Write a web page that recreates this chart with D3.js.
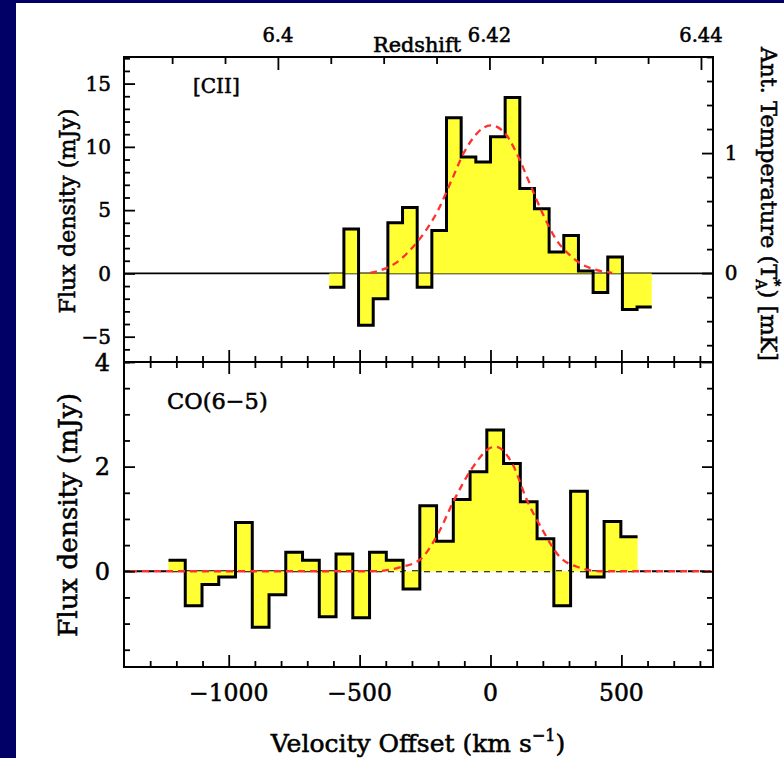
<!DOCTYPE html>
<html>
<head>
<meta charset="utf-8">
<script src="https://cdn.jsdelivr.net/npm/d3@7"></script>
<style>
  html, body { margin: 0; padding: 0; background: #000066; }
  svg { display: block; }
  text { font-family: "DejaVu Serif", serif; fill: #000; stroke: #000; stroke-width: 0.55px; }
</style>
</head>
<body>
<svg id="chart" width="784" height="758"></svg>
<script>
// [CII] spectrum, channel centres (km/s) and flux (mJy), 56 km/s channels
const ciiVelocity = [-588, -532, -476, -420, -364, -308, -252, -196, -140, -84, -28,
                     28, 84, 140, 196, 252, 308, 364, 420, 476, 532, 588];
const ciiFlux = [-1.1, 3.5, -4.1, -2.0, 4.0, 5.2, -1.1, 3.4, 12.3, 9.2, 8.8,
                 10.8, 13.9, 6.7, 5.1, 1.7, 3.0, 0.2, -1.5, 1.3, -2.85, -2.65];
// gaussian fit
const ciiFitVelocity = [-460, -400, -350, -300, -250, -200, -150, -100, -50, 0, 50, 100, 150, 200, 250, 300, 350, 400, 465];
const ciiFitFlux = [0.05, 0.4, 1.0, 2.0, 3.3, 5.0, 7.3, 9.6, 11.1, 11.7, 11.2, 9.5, 7.1, 4.7, 2.7, 1.5, 0.7, 0.3, 0.05];

// CO(6-5) spectrum, 64 km/s channels
const coVelocity = [-1198, -1134, -1070, -1006, -942, -878, -814, -750, -686, -622, -558, -494, -430, -366,
                    -302, -238, -174, -110, -46, 18, 82, 146, 210, 274, 338, 402, 466, 530];
const coFlux = [0.21, -0.66, -0.255, -0.11, 0.93, -1.07, -0.45, 0.365, 0.21, -0.87, 0.33, -0.89, 0.365, 0.21,
                -0.34, 1.25, 0.575, 1.37, 1.9, 2.7, 2.06, 1.33, 0.62, -0.66, 1.53, -0.11, 0.95, 0.66];
const coFitVelocity = [-1400, -450, -350, -270, -200, -140, -70, 0, 20, 85, 140, 200, 260, 340, 420, 850];
const coFitFlux = [0, 0, 0.07, 0.22, 0.72, 1.35, 1.97, 2.36, 2.38, 2.04, 1.35, 0.78, 0.3, 0.07, 0, 0];

const ciiChannel = 56, coChannel = 64;

// tick labels
const velocityTicks = [-1000, -500, 0, 500];
const redshiftTicks = [6.40, 6.42, 6.44];
const ciiTicks = [-5, 0, 5, 10, 15];
const tempTicks = [0, 1];
const coTicks = [0, 2, 4];

const z0 = 6.4201, cLight = 299792.458;
const zOf = (v) => z0 + (1 + z0) * v / cLight;

const svg = d3.select("#chart");
const pLeft = 124, pRight = 713, pTop = 57, pMid = 362, pBottom = 667;

svg.append("rect").attr("x", 16).attr("y", 3).attr("width", 784 - 16).attr("height", 758 - 3).attr("fill", "#fff");

const x = d3.scaleLinear().domain([-1400, 850]).range([pLeft, pRight]);
const xz = d3.scaleLinear().domain([zOf(-1400), zOf(850)]).range([pLeft, pRight]);
const yCii = d3.scaleLinear().domain([-7.0, 17.1]).range([pMid, pTop]);
const yTemp = d3.scaleLinear().domain([-0.74, 1.8]).range([pMid, pTop]);
const yCo = d3.scaleLinear().domain([-1.83, 4.0]).range([pBottom, pMid]);

const fmt = (d) => (d < 0 ? "\u2212" + Math.abs(d) : String(d));

function tickAxis(axis, scale, values, size, tx, ty) {
  const g = svg.append("g")
    .attr("transform", `translate(${tx},${ty})`)
    .call(axis(scale).tickValues(values).tickSize(-size).tickFormat(""));
  g.select(".domain").remove();
  g.selectAll("line").attr("stroke", "#000").attr("stroke-width", 1.8);
  return g;
}
const inDomain = (s, vals) => vals.filter((v) => v >= Math.min(...s.domain()) - 1e-9 && v <= Math.max(...s.domain()) + 1e-9);

// histogram helpers
function stepPoints(vel, flux, w) {
  return vel.flatMap((v, i) => [[v - w / 2, flux[i]], [v + w / 2, flux[i]]]);
}
function drawSpectrum(vel, flux, w, yScale) {
  const pts = stepPoints(vel, flux, w);
  svg.append("path")
    .attr("d", d3.area().x((d) => x(d[0])).y0(yScale(0)).y1((d) => yScale(d[1]))(pts))
    .attr("fill", "#ffff33");
  svg.append("path")
    .attr("d", d3.line().x((d) => x(d[0])).y((d) => yScale(d[1]))(pts))
    .attr("fill", "none").attr("stroke", "#000").attr("stroke-width", 3)
    .attr("stroke-linejoin", "miter");
}
function drawFit(vel, flux, yScale, offset) {
  svg.append("path")
    .attr("d", d3.line().curve(d3.curveMonotoneX).x((d) => x(d[0])).y((d) => yScale(d[1]))(vel.map((v, i) => [v, flux[i]])))
    .attr("fill", "none").attr("stroke", "#ff3030").attr("stroke-width", 2.3)
    .attr("stroke-dasharray", "7,5").attr("stroke-dashoffset", offset);
}

// ---------- top panel: [CII] ----------
svg.append("line").attr("x1", pLeft).attr("x2", pRight).attr("y1", yCii(0)).attr("y2", yCii(0))
  .attr("stroke", "#000").attr("stroke-width", 1.8);
drawSpectrum(ciiVelocity, ciiFlux, ciiChannel, yCii);
drawFit(ciiFitVelocity, ciiFitFlux, yCii, 0);

const ciiMinor = inDomain(yCii, d3.range(-7, 18, 1)).filter((d) => d % 5 !== 0);
tickAxis(d3.axisLeft, yCii, ciiMinor, 6, pLeft, 0);
tickAxis(d3.axisLeft, yCii, ciiTicks, 11, pLeft, 0);
const tempMinor = inDomain(yTemp, d3.range(-0.6, 1.81, 0.2).map((d) => +d.toFixed(1))).filter((d) => d !== 0 && d !== 1);
tickAxis(d3.axisRight, yTemp, tempMinor, 6, pRight, 0);
tickAxis(d3.axisRight, yTemp, tempTicks, 11, pRight, 0);
const zMinor = inDomain(xz, d3.range(6.39, 6.446, 0.005).map((d) => +d.toFixed(3))).filter((d) => !redshiftTicks.includes(d));
tickAxis(d3.axisTop, xz, zMinor, 7, 0, pTop);
tickAxis(d3.axisTop, xz, redshiftTicks, 13, 0, pTop);
const vMinor = d3.range(-1300, 850, 100).filter((d) => d % 500 !== 0);
tickAxis(d3.axisBottom, x, vMinor, 6, 0, pMid);
tickAxis(d3.axisBottom, x, velocityTicks, 12, 0, pMid);

svg.append("g").selectAll("text").data(ciiTicks).join("text")
  .attr("x", 111).attr("y", (d) => yCii(d)).attr("dy", "0.36em")
  .attr("text-anchor", "end").attr("font-size", 20).text(fmt);
svg.append("g").selectAll("text").data(tempTicks).join("text")
  .attr("x", 731).attr("y", (d) => yTemp(d)).attr("dy", "0.36em")
  .attr("text-anchor", "middle").attr("font-size", 20).text(fmt);
svg.append("g").selectAll("text").data(redshiftTicks).join("text")
  .attr("x", (d) => xz(d)).attr("y", 42)
  .attr("text-anchor", "middle").attr("font-size", 19.5).text((d) => d3.format(".3~f")(d));
svg.append("text").attr("x", 417).attr("y", 52).attr("text-anchor", "middle")
  .attr("font-size", 20).attr("textLength", 88).attr("lengthAdjust", "spacingAndGlyphs").text("Redshift");
svg.append("text").attr("x", 193).attr("y", 93).attr("font-size", 20).text("[CII]");
svg.append("text").attr("transform", "translate(75,211) rotate(-90)").attr("text-anchor", "middle")
  .attr("font-size", 22).attr("textLength", 205).attr("lengthAdjust", "spacingAndGlyphs").text("Flux density (mJy)");
const tLabel = svg.append("text").attr("transform", "translate(761,204) rotate(90)").attr("text-anchor", "middle")
  .attr("font-size", 22.5);
tLabel.append("tspan").text("Ant. Temperature (T");
tLabel.append("tspan").attr("font-size", 14).attr("dy", -9).text("*");
tLabel.append("tspan").attr("font-size", 14).attr("dx", -7).attr("dy", 14).text("A");
tLabel.append("tspan").attr("dy", -5).text(") [mK]");

// ---------- bottom panel: CO(6-5) ----------
svg.append("line").attr("x1", pLeft).attr("x2", pRight).attr("y1", yCo(0)).attr("y2", yCo(0))
  .attr("stroke", "#000").attr("stroke-width", 1.8).attr("stroke-dasharray", "6,6");
drawSpectrum(coVelocity, coFlux, coChannel, yCo);
drawFit(coFitVelocity, coFitFlux, yCo, 6);

const coMinor = inDomain(yCo, d3.range(-1.5, 4.01, 0.5)).filter((d) => !coTicks.includes(d));
tickAxis(d3.axisLeft, yCo, coMinor, 6, pLeft, 0);
tickAxis(d3.axisLeft, yCo, coTicks, 11, pLeft, 0);
tickAxis(d3.axisRight, yCo, coMinor, 6, pRight, 0);
tickAxis(d3.axisRight, yCo, coTicks, 11, pRight, 0);
tickAxis(d3.axisTop, x, vMinor, 6, 0, pMid);
tickAxis(d3.axisTop, x, velocityTicks, 12, 0, pMid);
tickAxis(d3.axisBottom, x, vMinor, 6, 0, pBottom);
tickAxis(d3.axisBottom, x, velocityTicks, 12, 0, pBottom);

svg.append("g").selectAll("text").data(coTicks).join("text")
  .attr("x", 110).attr("y", (d) => yCo(d)).attr("dy", "0.36em")
  .attr("text-anchor", "end").attr("font-size", 24).text(fmt);
svg.append("g").selectAll("text").data(velocityTicks).join("text")
  .attr("x", (d) => x(d)).attr("y", 701)
  .attr("text-anchor", "middle").attr("font-size", 23.5).text(fmt);
svg.append("text").attr("x", 167).attr("y", 409).attr("font-size", 22.5).text("CO(6\u22125)");
svg.append("text").attr("transform", "translate(77,515) rotate(-90)").attr("text-anchor", "middle")
  .attr("font-size", 25.5).attr("textLength", 244).attr("lengthAdjust", "spacingAndGlyphs").text("Flux density (mJy)");
const vLabel = svg.append("text").attr("x", 418).attr("y", 752).attr("text-anchor", "middle").attr("font-size", 25);
vLabel.append("tspan").text("Velocity Offset (km s");
vLabel.append("tspan").attr("font-size", 16).attr("dy", -11).text("\u22121");
vLabel.append("tspan").attr("dy", 11).text(")");

// frame and panel divider
svg.append("rect").attr("x", pLeft).attr("y", pTop).attr("width", pRight - pLeft).attr("height", pBottom - pTop)
  .attr("fill", "none").attr("stroke", "#000").attr("stroke-width", 2);
svg.append("line").attr("x1", pLeft).attr("x2", pRight).attr("y1", pMid).attr("y2", pMid)
  .attr("stroke", "#000").attr("stroke-width", 2);
</script>
</body>
</html>
